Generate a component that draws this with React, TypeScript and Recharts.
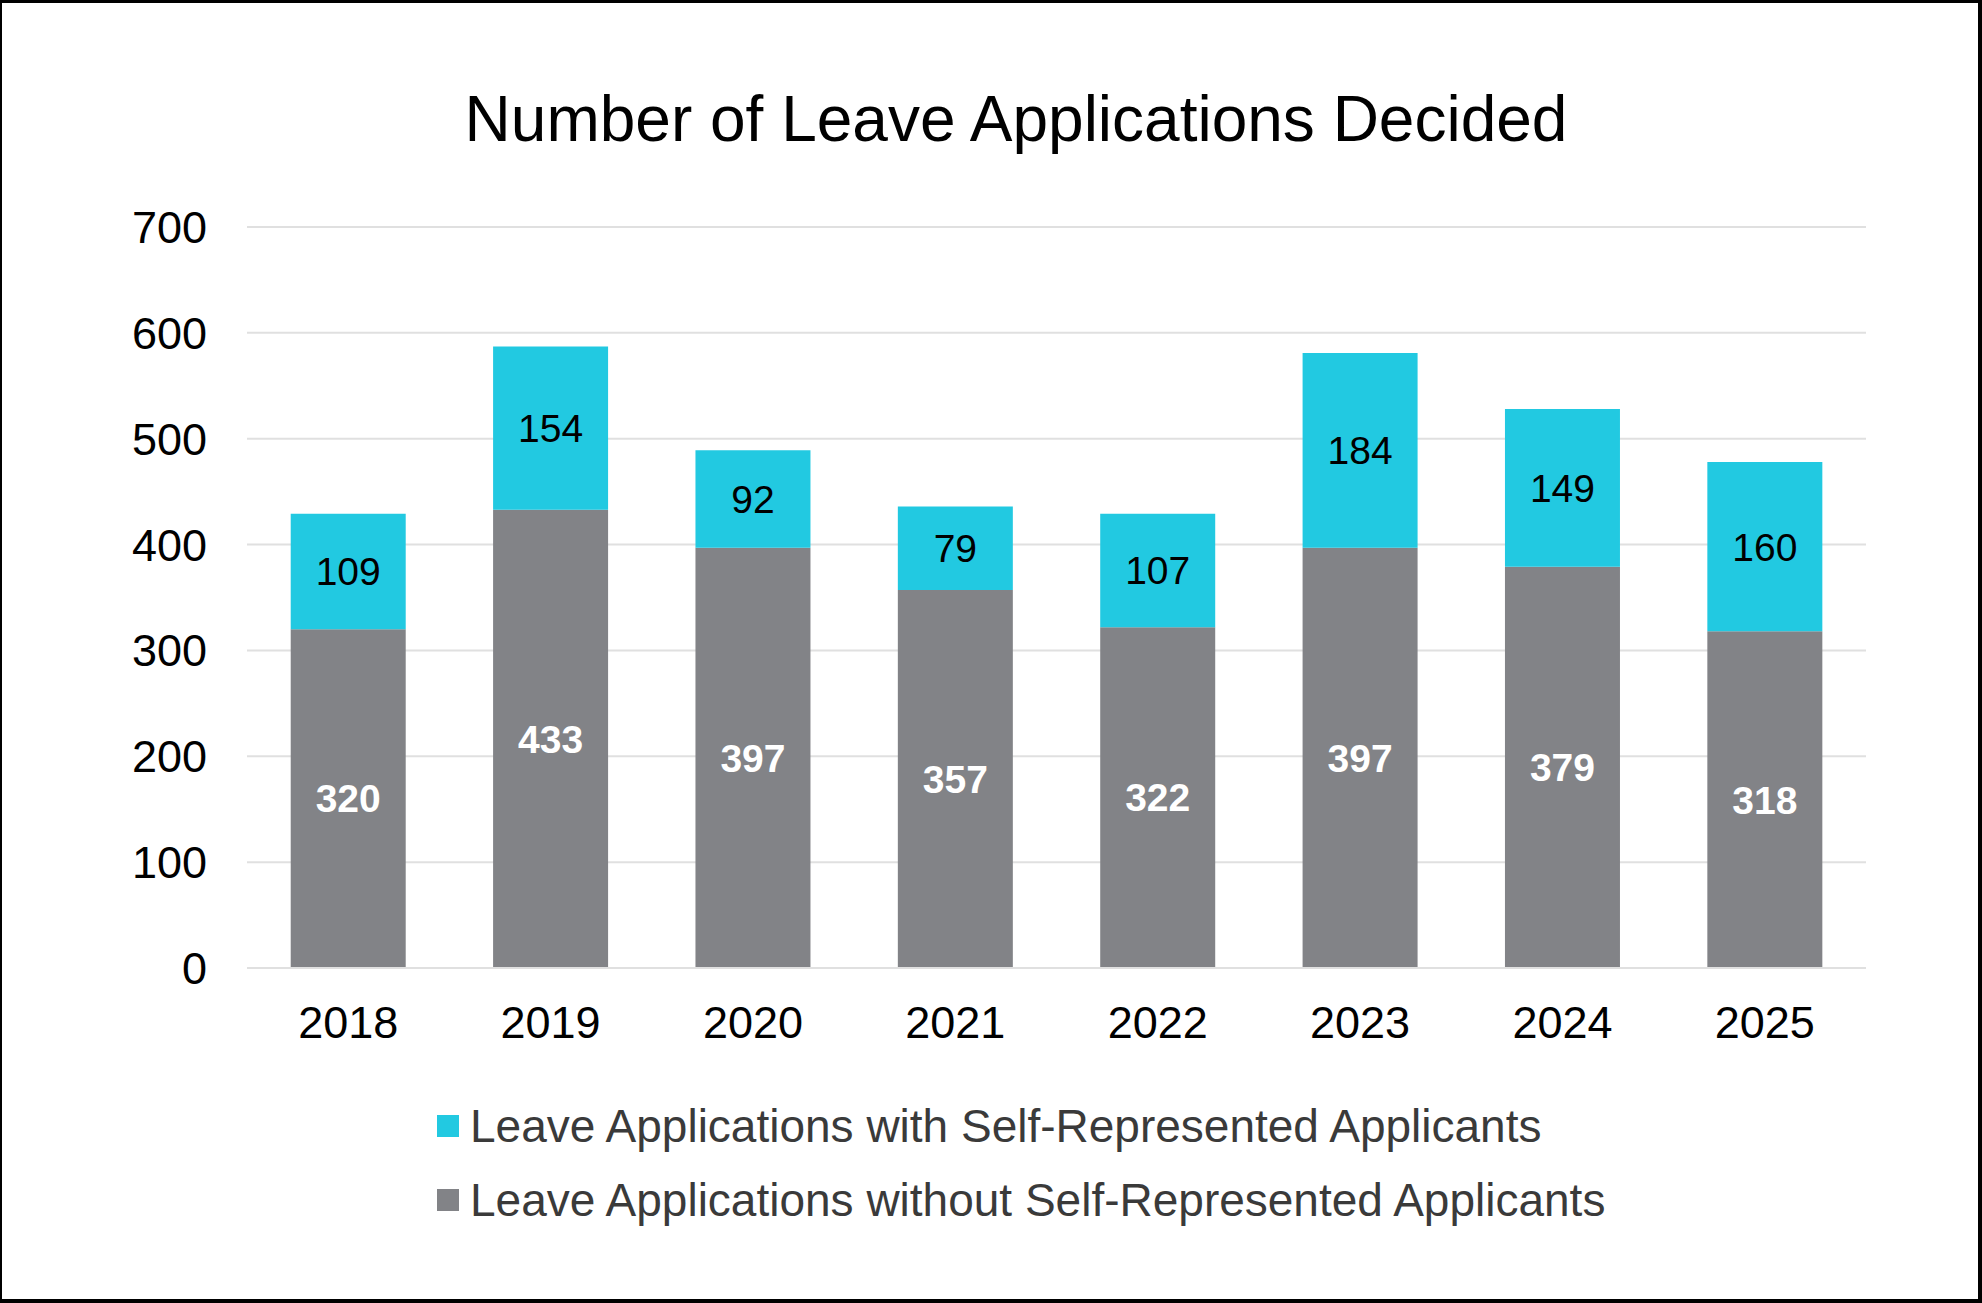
import React from "react";
import { BarChart, Bar, XAxis, YAxis, CartesianGrid, LabelList, Legend } from "recharts";

// 연도별 데이터
const years = ["2018", "2019", "2020", "2021", "2022", "2023", "2024", "2025"];
const withoutSelfRep = [320, 433, 397, 357, 322, 397, 379, 318];
const withSelfRep = [109, 154, 92, 79, 107, 184, 149, 160];
const yTicks = [0, 100, 200, 300, 400, 500, 600, 700];

const NAME_WITH = "Leave Applications with Self-Represented Applicants";
const NAME_WITHOUT = "Leave Applications without Self-Represented Applicants";

const CYAN = "#22c9e1";
const GRAY = "#828387";
const FONT = "'Liberation Sans', Arial, sans-serif";

const data = years.map((year, i) => ({
  year,
  without: withoutSelfRep[i],
  with: withSelfRep[i],
}));

const legendItems = [
  { name: NAME_WITH, color: CYAN },
  { name: NAME_WITHOUT, color: GRAY },
];

function LegendBox() {
  return (
    <div style={{ fontFamily: FONT, fontSize: 46, color: "#3a3a3a" }}>
      {legendItems.map((item) => (
        <div
          key={item.name}
          style={{ display: "flex", alignItems: "center", height: 74, whiteSpace: "nowrap" }}
        >
          <span
            style={{
              display: "inline-block",
              width: 22,
              height: 22,
              background: item.color,
              marginRight: 11,
            }}
          />
          <span>{item.name}</span>
        </div>
      ))}
    </div>
  );
}

export default function App() {
  return (
    <div
      style={{
        position: "fixed",
        left: 0,
        top: 0,
        width: 1982,
        height: 1303,
        background: "#fff",
        boxSizing: "border-box",
        borderStyle: "solid",
        borderColor: "#000",
        borderWidth: "3px 4px 4px 2px",
        fontFamily: FONT,
      }}
    >
      <div
        style={{
          position: "absolute",
          left: 1014,
          top: 84,
          transform: "translateX(-50%)",
          fontSize: 64,
          lineHeight: "64px",
          whiteSpace: "nowrap",
          color: "#000",
        }}
      >
        Number of Leave Applications Decided
      </div>
      <div style={{ position: "absolute", left: -2, top: -3 }}>
        <BarChart
          width={1982}
          height={1303}
          data={data}
          margin={{ top: 227, right: 116, left: 0, bottom: 0 }}
          barCategoryGap="21.6%"
        >
          <CartesianGrid vertical={false} stroke="#e0e0e0" strokeWidth={2} />
          <XAxis
            dataKey="year"
            height={335}
            axisLine={{ stroke: "#e0e0e0", strokeWidth: 2 }}
            tickLine={false}
            tickSize={0}
            tickMargin={38}
            tick={{ fontSize: 45, fill: "#000", fontFamily: FONT }}
          />
          <YAxis
            width={247}
            domain={[0, 700]}
            ticks={yTicks}
            axisLine={false}
            tickLine={false}
            tickSize={0}
            tickMargin={40}
            tick={{ fontSize: 45, fill: "#000", fontFamily: FONT }}
          />
          <Legend
            layout="vertical"
            align="center"
            verticalAlign="middle"
            wrapperStyle={{ top: 1089, left: 437, width: "auto" }}
            content={() => <LegendBox />}
          />
          <Bar dataKey="without" name={NAME_WITHOUT} stackId="a" fill={GRAY} isAnimationActive={false}>
            <LabelList
              dataKey="without"
              position="center"
              fill="#fff"
              style={{ fontSize: 39, fontWeight: "bold", fontFamily: FONT }}
            />
          </Bar>
          <Bar dataKey="with" name={NAME_WITH} stackId="a" fill={CYAN} isAnimationActive={false}>
            <LabelList
              dataKey="with"
              position="center"
              fill="#000"
              style={{ fontSize: 39, fontFamily: FONT }}
            />
          </Bar>
        </BarChart>
      </div>
    </div>
  );
}
